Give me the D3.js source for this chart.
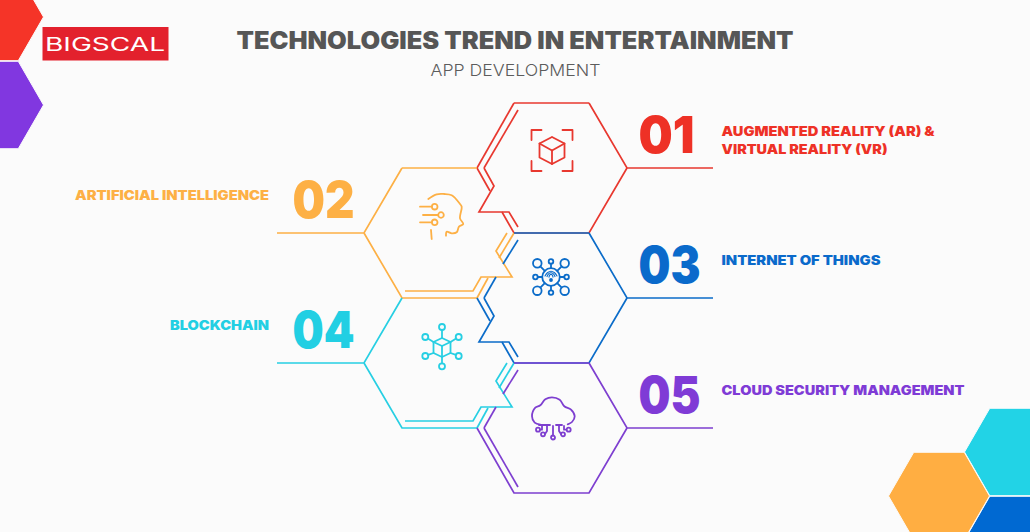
<!DOCTYPE html>
<html><head><meta charset="utf-8">
<style>html,body{margin:0;padding:0;background:#fbfbfb}svg{display:block}text{font-family:Inter,"Open Sans",sans-serif}</style>
<script src="https://cdn.jsdelivr.net/npm/d3@7"></script>
</head><body><script>
// ---- content ----
const titleText = "TECHNOLOGIES TREND IN ENTERTAINMENT";
const subtitleText = "APP DEVELOPMENT";
const logoText = "BIGSCAL";
const numbers = ["01","02","03","04","05"];
const labels = [
  ["AUGMENTED REALITY (AR) &","VIRTUAL REALITY (VR)"],
  ["ARTIFICIAL INTELLIGENCE"],
  ["INTERNET OF THINGS"],
  ["BLOCKCHAIN"],
  ["CLOUD SECURITY MANAGEMENT"]
];
const sides = ["right","left","right","left","right"];
const colors = ["#e8382f","#fdb045","#0b6cc9","#27cfe3","#7e3fd0"];
const textColors = ["#ee3126","#fdb045","#0a6acb","#22cfe3","#7f3bd6"];

// ---- layout ----
const W = 1030, H = 532;
const rowY = d3.scaleLinear().domain([0,4]).range([168,428]);
const colX = d3.scaleOrdinal().domain(["right","left"]).range([552,439]);
const labelWidths = [[213,166],[194],[159],[99],[243]];
const iconOffsets = [[0,-17.5],[2,-18],[-1,-21],[3,-16],[1,-11]];

const svg = d3.select("body").append("svg").attr("width",W).attr("height",H);
svg.append("rect").attr("width",W).attr("height",H).attr("fill","#fbfbfb");

// corner hexagons
const hexUnit = d3.range(6).map(i=>[Math.cos(i*Math.PI/3),Math.sin(i*Math.PI/3)]);
const poly = d3.line();
const corners = [
  {c:[-7,17],f:"#f53428"},{c:[-7,105],f:"#8137e0"},
  {c:[1015,452],f:"#22d3e6"},{c:[1015,540],f:"#0069d2"},{c:[939,496],f:"#ffae42"}
];
svg.append("g").selectAll("path").data(corners).join("path")
  .attr("d",d=>poly(hexUnit.map(p=>[d.c[0]+50.5*p[0],d.c[1]+50.5*p[1]]))+"Z")
  .attr("fill",d=>d.f).attr("stroke","#fbfbfb").attr("stroke-width",1);

// logo
const logo = svg.append("g");
logo.append("rect").attr("x",42.5).attr("y",27).attr("width",126).attr("height",33.5).attr("fill","#e3212d");
logo.append("text").text(logoText).attr("x",45).attr("y",51)
  .attr("textLength",120).attr("lengthAdjust","spacingAndGlyphs")
  .attr("font-size",18).attr("font-weight",400).attr("fill","#fff");

// titles
svg.append("text").text(titleText).attr("x",236.5).attr("y",48.5)
  .attr("textLength",557).attr("lengthAdjust","spacingAndGlyphs")
  .attr("font-size",24).attr("font-weight",900).attr("fill","#565656");
svg.append("text").text(subtitleText).attr("x",430.5).attr("y",76)
  .attr("textLength",170).attr("lengthAdjust","spacingAndGlyphs")
  .attr("font-size",16.5).attr("font-weight",300).attr("fill","#5c5c5c");

// hexagon outlines in hexagon-local coordinates
const R = {
  lead:[[161,0],[75,0],[37,-65]],
  top:[[37,-65],[-38,-65]],
  topLeft:[[-38,-65],[-75,0]],
  notch:[[-75,0],[-62,23]],
  innerFull:[[-34,-58],[-68,0]],
  innerA:[[-34,-58],[-49,-34]],
  innerB:[[-56,-21],[-68,0]],
  fold:[[-68,0],[-58,18],[-73,44],[-43,44],[-34,59]],
  lower:[[-50,44],[-38,65],[37,65],[75,0]],
  bottomLeft:[[-75,0],[-38,65],[37,65],[75,0]],
  innerDown:[[-68,0],[-34,59]]
};
const L = {
  lead:[[-162,0],[-75,0],[-37,-65]],
  top:[[-37,-65],[38,-65]],
  bottom:[[38,65],[-37,65],[-75,0]],
  inner:[[-34,58],[34,58],[42,44],[73,44],[57,18],[68,0]],
  right:[[75,0],[60,25]],
  stub:[[49,45],[38,65]]
};
const shapes = [
  [R.lead,R.top,R.topLeft,R.notch,R.innerFull,R.fold,R.lower],
  [L.lead,L.top,L.bottom,L.inner,L.right,L.stub],
  [R.lead,R.top,R.notch,R.innerA,R.innerB,R.fold,R.lower],
  [L.lead,L.bottom,L.inner,L.right,L.stub],
  [R.lead,R.top,R.innerA,R.innerB,R.innerDown,R.bottomLeft]
];
const line = d3.line();
numbers.forEach((n,i)=>{
  const cx = colX(sides[i]), cy = rowY(i);
  const g = svg.append("g").attr("transform",`translate(${cx},${cy})`)
    .attr("fill","none").attr("stroke",colors[i]).attr("stroke-width",1.7);
  g.selectAll("path").data(shapes[i]).join("path").attr("d",line);
});

// numbers and labels
numbers.forEach((n,i)=>{
  const right = sides[i]==="right", cy = rowY(i);
  svg.append("text").text(n).attr("x",right?638.5:292.5).attr("y",cy-15)
    .attr("font-size",51).attr("font-weight",900).attr("fill",textColors[i])
    .attr("textLength",right?(n==="01"?56:62):62).attr("lengthAdjust","spacingAndGlyphs");
  labels[i].forEach((t,j)=>{
    const w = labelWidths[i][j];
    svg.append("text").text(t)
      .attr("x",right?721.5:269-w)
      .attr("y",(labels[i].length>1?cy-32:cy-32.7)+j*17.5)
      .attr("textLength",w).attr("lengthAdjust","spacingAndGlyphs")
      .attr("font-size",13).attr("font-weight",900).attr("fill",textColors[i]);
  });
});

// icons, drawn in icon-local coordinates
const smooth = d3.line().curve(d3.curveCatmullRom.alpha(.5));
const circ = (g,x,y,r)=>g.append("circle").attr("cx",x).attr("cy",y).attr("r",r);
const seg = (g,pts,curve)=>g.append("path").attr("d",(curve?smooth:line)(pts));
const icon = i=>{
  const o = iconOffsets[i];
  return svg.append("g").attr("transform",`translate(${colX(sides[i])+o[0]},${rowY(i)+o[1]})`)
    .attr("fill","none").attr("stroke",colors[i]).attr("stroke-width",1.8)
    .attr("stroke-linecap","round").attr("stroke-linejoin","round");
};
// 01 AR cube
{
  const g = icon(0), a=20.5, b=10.5;
  [[-1,-1],[1,-1],[1,1],[-1,1]].forEach(([sx,sy])=>
    seg(g,[[sx*b,sy*a],[sx*a,sy*a],[sx*a,sy*b]]));
  seg(g,[[0,-13.5],[12.5,-7],[12.5,7],[0,13.5],[-12.5,7],[-12.5,-7],[0,-13.5]]);
  seg(g,[[-12.5,-7],[0,0],[12.5,-7]]); seg(g,[[0,0],[0,13.5]]);
}
// 02 AI head
{
  const g = icon(1);
  seg(g,[[-12.7,-16],[-4.3,-20.7],[3,-21],[10.7,-19.7],[19,-11],[20.7,-8.3],[19,3.3],[22.3,9],[18,11.7],[15.7,17.3],[10.7,18.3],[5.7,16.7],[5,20.7]],true);
  seg(g,[[-21,-8.3],[-9.3,-8.3]]); circ(g,-6.3,-8.3,2.8);
  seg(g,[[-18,0],[-2.8,0]]); circ(g,0,0,2.8);
  seg(g,[[-21,7.3],[-9.3,7.3]]); circ(g,-6.3,7.3,2.8);
  seg(g,[[-10,15],[-9.3,24]]);
}
// 03 IoT network with wifi
{
  const g = icon(2), d=13.7, s=15.6;
  circ(g,0,0,8.8);
  [[-1,-1],[1,-1],[1,1],[-1,1]].forEach(([x,y])=>{
    circ(g,x*d,y*d,4.3); seg(g,[[x*6.2,y*6.2],[x*(d-3),y*(d-3)]]);
  });
  [[0,-1],[0,1],[-1,0],[1,0]].forEach(([x,y])=>{
    circ(g,x*s,y*s,2.3); seg(g,[[x*8.8,y*8.8],[x*(s-2.3),y*(s-2.3)]]);
  });
  [[6,2],[4,1.6],[2,1.3]].forEach(([r])=>{
    seg(g,[[-r,-1+ (6-r)*.3],[-r*.6,-1-r*.55],[0,-1-r*.8],[r*.6,-1-r*.55],[r,-1+(6-r)*.3]],true).attr("stroke-width",1.1);
  });
  g.append("circle").attr("cx",0).attr("cy",3).attr("r",1).attr("fill",colors[2]);
}
// 04 blockchain cube
{
  const g = icon(3);
  seg(g,[[0,-9],[8.5,-5],[8.5,6],[0,10],[-8.5,6],[-8.5,-5],[0,-9]]);
  seg(g,[[-8.5,-5],[0,-1],[8.5,-5]]); seg(g,[[0,-1],[0,10]]);
  const nodes=[[[0,-20],[0,-9]],[[-16.7,-10],[-8.5,-5]],[[16.7,-10],[8.5,-5]],[[-16.7,9],[-8.5,6]],[[16.7,9],[8.5,6]],[[0,19.3],[0,10]]];
  nodes.forEach(([c,t])=>{
    circ(g,c[0],c[1],3);
    const dx=t[0]-c[0],dy=t[1]-c[1],l=Math.hypot(dx,dy);
    seg(g,[[c[0]+dx/l*3,c[1]+dy/l*3],t]);
  });
}
// 05 cloud circuit
{
  const g = icon(4);
  seg(g,[[-12.7,7.7],[-18.3,5.7],[-21,-0.7],[-17.7,-9.3],[-12.7,-11.7],[-7.7,-17.7],[-1,-19.7],[6.7,-17.3],[11.3,-10.7],[18,-7.3],[21.7,-0.7],[19,5],[14.7,7.3]],true);
  seg(g,[[-14,8],[-3,8]]); seg(g,[[3,8],[9,8]]);
  seg(g,[[0,9],[0,18.5]]); circ(g,0,20.5,2);
  seg(g,[[-6,8],[-6,14],[-8,17]]); circ(g,-10,17.3,2);
  seg(g,[[6,8],[6,14],[8,17]]); circ(g,10,17.3,2);
  seg(g,[[-11,9],[-11,12.7],[-13,12.7]]); circ(g,-15,12.7,2);
  seg(g,[[11,9],[11,12.7],[13,12.7]]); circ(g,15.7,12.7,2);
}
</script></body></html>
